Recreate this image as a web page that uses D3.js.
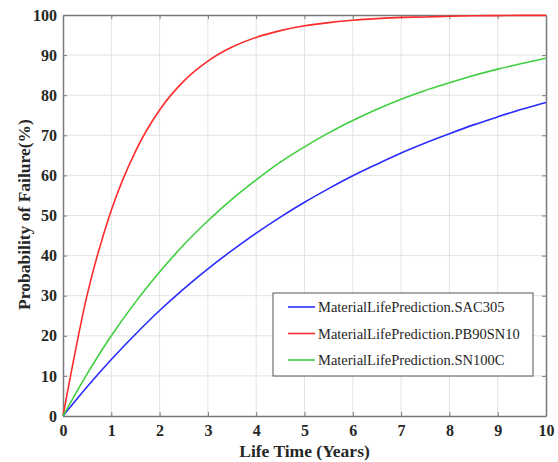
<!DOCTYPE html>
<html>
<head>
<meta charset="utf-8">
<script src="https://cdn.jsdelivr.net/npm/d3@7"></script>
<style>
  body { margin: 0; background: #fff; }
  text { font-family: "Liberation Serif", "Times New Roman", serif; }
</style>
</head>
<body>
<svg id="chart"></svg>
<script>
// values
const years = [0, 0.5, 1, 1.5, 2, 2.5, 3, 3.5, 4, 4.5, 5, 5.5, 6, 6.5, 7, 7.5, 8, 8.5, 9, 9.5, 10];
const sac305 = [0, 7.3, 14.1, 20.4, 26.3, 31.7, 36.7, 41.3, 45.6, 49.6, 53.3, 56.7, 59.9, 62.8, 65.6, 68.1, 70.4, 72.6, 74.6, 76.5, 78.2];
const pb90sn10 = [0, 30.2, 51.3, 66.0, 76.3, 83.5, 88.5, 92.0, 94.4, 96.1, 97.3, 98.1, 98.7, 99.1, 99.4, 99.5, 99.7, 99.8, 99.85, 99.9, 99.9];
const sn100c = [0, 10.5, 20.0, 28.4, 35.9, 42.7, 48.7, 54.1, 58.9, 63.3, 67.1, 70.6, 73.7, 76.5, 79.0, 81.2, 83.1, 84.9, 86.5, 87.9, 89.2];
const seriesNames = ["MaterialLifePrediction.SAC305", "MaterialLifePrediction.PB90SN10", "MaterialLifePrediction.SN100C"];
const seriesColors = ["#2b2bff", "#ff2b2b", "#3fcf3f"];
const xTicks = [0, 1, 2, 3, 4, 5, 6, 7, 8, 9, 10];
const yTicks = [0, 10, 20, 30, 40, 50, 60, 70, 80, 90, 100];

const size = { w: 558, h: 462 };
const margin = { t: 15, r: 12, b: 46, l: 63 };
const svg = d3.select("svg#chart").attr("width", size.w).attr("height", size.h);

const innerW = size.w - margin.l - margin.r;
const innerH = size.h - margin.t - margin.b;

const x = d3.scaleLinear().domain([0, 10]).range([0, innerW]);
const y = d3.scaleLinear().domain([0, 100]).range([innerH, 0]);

const g = svg.append("g").attr("transform", `translate(${margin.l}, ${margin.t})`);

// grid
g.append("g")
	.selectAll("line.vgrid")
	.data(xTicks.slice(1, -1))
	.join("line")
	.attr("x1", (d) => x(d)).attr("x2", (d) => x(d))
	.attr("y1", 0).attr("y2", innerH)
	.attr("stroke", "#e3e3e3").attr("stroke-width", 1);
g.append("g")
	.selectAll("line.hgrid")
	.data(yTicks.slice(1, -1))
	.join("line")
	.attr("y1", (d) => y(d)).attr("y2", (d) => y(d))
	.attr("x1", 0).attr("x2", innerW)
	.attr("stroke", "#e3e3e3").attr("stroke-width", 1);

// axes (inward ticks, MATLAB style box)
const axisColor = "#7a7a7a";
function styleAxis(sel, showLabels) {
	sel.select(".domain").attr("stroke", axisColor).attr("stroke-width", 1.5);
	sel.selectAll(".tick line").attr("stroke", axisColor).attr("stroke-width", 1);
	sel.selectAll(".tick text")
		.attr("fill", "#262626")
		.style("font-size", "16px")
		.style("font-weight", "bold")
		.style("display", showLabels ? null : "none");
}

g.append("g")
	.attr("transform", `translate(0, ${innerH})`)
	.call(d3.axisBottom(x).tickValues(xTicks).tickSize(-4).tickPadding(9).tickSizeOuter(0))
	.call((s) => styleAxis(s, true));
g.append("g")
	.call(d3.axisTop(x).tickValues(xTicks).tickSize(-4).tickSizeOuter(0))
	.call((s) => styleAxis(s, false));
g.append("g")
	.call(d3.axisLeft(y).tickValues(yTicks).tickSize(-4).tickPadding(6).tickSizeOuter(0))
	.call((s) => styleAxis(s, true));
g.append("g")
	.attr("transform", `translate(${innerW}, 0)`)
	.call(d3.axisRight(y).tickValues(yTicks).tickSize(-4).tickSizeOuter(0))
	.call((s) => styleAxis(s, false));

// curves
const allSeries = [sac305, pb90sn10, sn100c];
const line = d3.line()
	.x((d, i) => x(years[i]))
	.y((d) => y(d))
	.curve(d3.curveMonotoneX);

g.append("g")
	.selectAll("path")
	.data(allSeries)
	.join("path")
	.attr("d", line)
	.attr("fill", "none")
	.attr("stroke", (d, i) => seriesColors[i])
	.attr("stroke-width", 1.6);

// axis labels
svg.append("text")
	.attr("x", margin.l + innerW / 2)
	.attr("y", 457)
	.attr("text-anchor", "middle")
	.style("font-size", "17.5px")
	.style("font-weight", "bold")
	.attr("fill", "#262626")
	.text("Life Time (Years)");

svg.append("text")
	.attr("transform", `translate(30, ${margin.t + innerH / 2 - 1}) rotate(-90)`)
	.attr("text-anchor", "middle")
	.style("font-size", "17.5px")
	.style("font-weight", "bold")
	.attr("fill", "#262626")
	.text("Probability of Failure(%)");

// legend
const legend = svg.append("g").attr("transform", "translate(273, 293)");
legend.append("rect")
	.attr("width", 260).attr("height", 83)
	.attr("fill", "#fff")
	.attr("stroke", "#555").attr("stroke-width", 1);

const items = legend.selectAll("g.item")
	.data(seriesNames)
	.join("g")
	.attr("transform", (d, i) => `translate(0, ${14 + i * 26.5})`);
items.append("line")
	.attr("x1", 15).attr("x2", 42)
	.attr("stroke", (d, i) => seriesColors[i])
	.attr("stroke-width", 1.6);
items.append("text")
	.attr("x", 45)
	.attr("dy", "0.35em")
	.style("font-size", "14.5px")
	.attr("fill", "#262626")
	.text((d) => d);
</script>
</body>
</html>
